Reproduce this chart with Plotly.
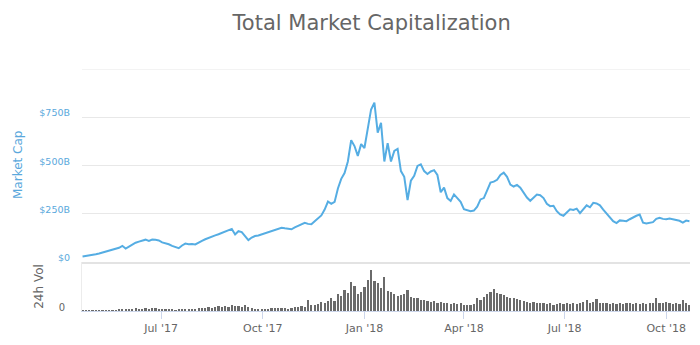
import pandas as pd
import plotly.graph_objects as go

# Total crypto market capitalisation (billions USD), one reading every 3 days
market_cap_b = [
    27, 29, 31, 35, 38, 42, 47, 52, 56, 60,
    64, 72, 82, 68, 78, 90, 98, 104, 110, 114,
    108, 115, 113, 110, 100, 96, 90, 82, 76, 70,
    84, 94, 90, 92, 89, 100, 108, 116, 124, 129,
    136, 142, 150, 156, 162, 170, 141, 158, 153, 130,
    112, 125, 133, 136, 142, 146, 150, 156, 162, 170,
    176, 173, 170, 168, 178, 185, 196, 202, 196, 194,
    210, 225, 240, 270, 312, 300, 310, 380, 430, 460,
    520, 630, 600, 549, 610, 590, 700, 790, 825, 670,
    720, 520, 615, 520, 575, 585, 470, 440, 320, 420,
    445, 497, 505, 470, 455, 468, 475, 450, 360, 384,
    330, 315, 349, 330, 310, 272, 268, 262, 265, 285,
    323, 330, 370, 410, 415, 425, 450, 462, 440, 400,
    390, 398, 384, 355, 333, 316, 330, 348, 345, 330,
    300, 288, 290, 262, 245, 238, 255, 272, 268, 275,
    252, 270, 292, 282, 305, 302, 292, 270, 250, 225,
    210, 200, 214, 212, 210, 220, 230, 238, 244, 202,
    198, 200, 205, 222, 228, 222, 220, 224, 221, 218,
    212, 203, 213, 210,
]

# 24h trading volume (billions USD), same dates
volume_b = [
    0.8, 1.0, 0.9, 1.2, 1.4, 1.3, 1.6, 2.0, 1.8, 2.2,
    2.5, 3.0, 4.2, 3.5, 3.2, 3.8, 4.5, 3.6, 4.0, 5.0,
    4.2, 4.6, 5.2, 4.0, 3.5, 3.2, 3.0, 3.8, 2.8, 3.0,
    4.2, 3.5, 3.0, 3.8, 4.2, 4.5, 5.5, 5.0, 6.5, 5.8,
    6.0, 7.5, 6.5, 8.0, 7.0, 9.0, 7.5, 8.5, 7.0, 9.5,
    6.5, 5.0, 4.2, 3.8, 3.5, 4.0, 3.2, 4.5, 5.0, 4.5,
    5.5, 4.8, 4.0, 5.5, 6.0, 6.5, 7.5, 6.0, 18, 10,
    9, 11, 14, 12, 16, 21, 15, 27, 24, 33,
    28, 45, 38, 27, 30, 37, 48, 63, 46, 43,
    36, 52, 31, 29, 26, 23, 25, 27, 33, 22,
    20, 21, 18, 17, 16, 14, 15, 13, 14, 12,
    13, 11, 12, 11, 12, 10, 9, 10, 11, 20,
    17, 22, 26, 29, 34, 28, 27, 25, 22, 21,
    20, 19, 17, 15, 14, 13, 14, 12, 13, 12,
    11, 12, 10, 11, 13, 11, 12, 11, 12, 11,
    12, 14, 18, 13, 14, 19, 13, 12, 12, 11,
    12, 11, 12, 11, 13, 12, 11, 12, 11, 12,
    11, 12, 13, 21, 13, 12, 14, 12, 11, 12,
    11, 18, 12, 10,
]

start_date = "2017-04-21"
cap_dates = pd.date_range(start_date, periods=len(market_cap_b), freq="3D")
vol_dates = pd.date_range(start_date, periods=len(volume_b), freq="3D")

cap_tick_vals = [0, 250, 500, 750, 1000]
cap_tick_text = ["$0", "$250B", "$500B", "$750B", ""]

date_tick_vals = ["2017-07-01", "2017-10-01", "2018-01-01",
                  "2018-04-01", "2018-07-01", "2018-10-01"]
date_tick_text = ["Jul '17", "Oct '17", "Jan '18", "Apr '18", "Jul '18", "Oct '18"]

FONT = "DejaVu Sans, Verdana, sans-serif"
LINE_BLUE = "#55ade3"
LABEL_BLUE = "#5aa8dc"
GREY = "#666666"
GRID = "#e8e8e8"

fig = go.Figure()

fig.add_trace(go.Scatter(
    x=cap_dates, y=market_cap_b, mode="lines",
    line=dict(color=LINE_BLUE, width=2),
    xaxis="x", yaxis="y", showlegend=False,
))

fig.add_trace(go.Bar(
    x=vol_dates, y=volume_b,
    marker=dict(color="#6a6a6a", line=dict(width=0)),
    width=2 * 86400000,
    xaxis="x2", yaxis="y2", showlegend=False,
))

x_range = ["2017-04-20 12:00", "2018-10-22 12:00"]

# top grid line sits on the plot edge, so draw it explicitly
fig.add_shape(type="line", xref="x domain", yref="y",
              x0=0, x1=1, y0=cap_tick_vals[-1], y1=cap_tick_vals[-1],
              line=dict(color=GRID, width=1), layer="below")

fig.update_layout(
    width=700, height=345,
    margin=dict(l=82, r=10, t=69, b=33.5),
    paper_bgcolor="white", plot_bgcolor="white",
    font=dict(family=FONT, color=GREY),
    title=dict(
        text="Total Market Capitalization",
        x=0.531, xanchor="center", y=1 - 23 / 345, yanchor="middle",
        yref="container",
        font=dict(size=21, color="#666666", family=FONT),
    ),
    xaxis=dict(
        domain=[0, 1], range=x_range, type="date",
        showgrid=False, showticklabels=False, ticks="",
        showline=True, linecolor="#e3e3e3", linewidth=2,
        zeroline=False, anchor="y",
    ),
    yaxis=dict(
        domain=[0.204, 1], range=[0, 1000],
        tickvals=cap_tick_vals, ticktext=cap_tick_text,
        tickfont=dict(size=9.5, color=LABEL_BLUE, family=FONT),
        gridcolor=GRID, gridwidth=1,
        zeroline=False, showline=False, ticks="",
        ticklabelstandoff=11, ticklabelshift=-4,
    ),
    xaxis2=dict(
        domain=[0, 1], range=x_range, type="date", anchor="y2",
        tickvals=date_tick_vals, ticktext=date_tick_text,
        tickfont=dict(size=11, color=GREY, family=FONT),
        ticks="outside", ticklen=7, tickcolor="#ccd6eb", tickwidth=1,
        showline=True, linecolor="#ccd6eb", linewidth=1,
        showgrid=False, zeroline=False,
    ),
    yaxis2=dict(
        domain=[0, 0.204], range=[0, 75],
        tickvals=[0], ticktext=["0"],
        tickfont=dict(size=10, color=GREY, family=FONT),
        showgrid=False, zeroline=False, ticks="",
        showline=True, linecolor="#ececec", linewidth=1,
        ticklabelstandoff=14, ticklabelshift=-4,
    ),
    bargap=0,
    annotations=[
        dict(text="Market Cap", textangle=-90, xref="paper", yref="paper",
             x=-0.105, y=0.604, xanchor="center", yanchor="middle",
             showarrow=False, font=dict(size=12, color=LABEL_BLUE, family=FONT)),
        dict(text="24h Vol", textangle=-90, xref="paper", yref="paper",
             x=-0.072, y=0.101, xanchor="center", yanchor="middle",
             showarrow=False, font=dict(size=12, color=GREY, family=FONT)),
    ],
)

fig.write_html("out.html")
